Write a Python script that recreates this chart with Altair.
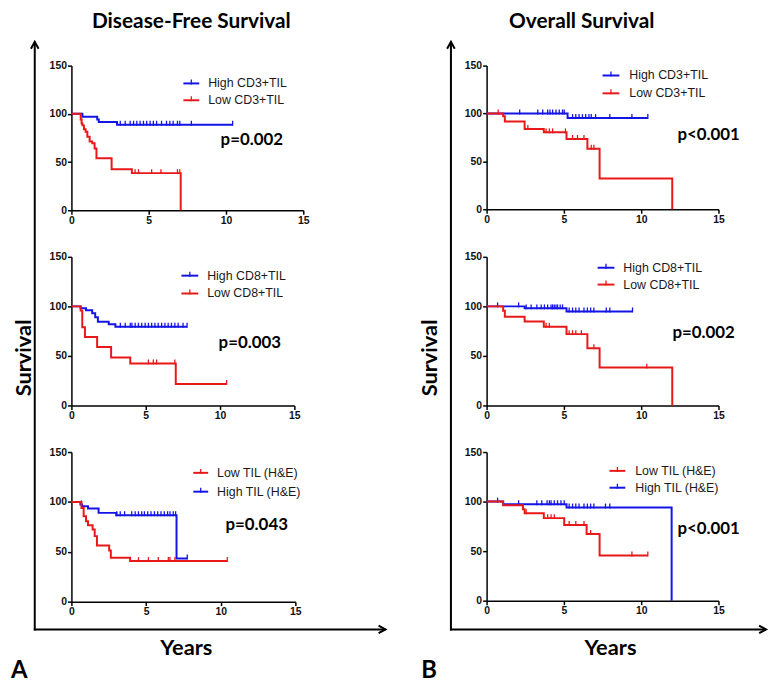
import altair as alt
import pandas as pd

BLUE = "#1414e6"
RED = "#e81818"
BIG_FONT = "Lato"
SMALL_FONT = "Liberation Sans"

# ---------------- data: step times (years) and survival (%) ----------------
# Disease-free survival, CD3
dfs_cd3_high_t = [0, 0.71, 1.67, 1.77, 2.95, 10.43]
dfs_cd3_high_s = [100, 97, 94, 91.5, 88.7, 88.7]
dfs_cd3_high_c = [3.16, 3.48, 3.80, 4.02, 4.23, 4.44, 4.66, 4.87, 5.09, 5.30, 5.51,
                  5.83, 6.15, 6.37, 6.58, 6.86, 7.01, 7.76, 10.43]
dfs_cd3_low_t = [0, 0.6, 0.66, 0.71, 0.81, 0.92, 1.03, 1.18, 1.35, 1.5, 1.62, 2.6, 3.91, 7.07]
dfs_cd3_low_s = [100, 94, 90, 88, 84, 81.5, 76.3, 71.2, 69.5, 64, 54, 42.5, 38.5, 0]
dfs_cd3_low_c = [4.12, 4.34, 5.19, 5.79, 6.86, 7.01]

# Disease-free survival, CD8
dfs_cd8_high_t = [0, 0.62, 0.98, 1.4, 1.6, 1.78, 2.51, 2.96, 7.78]
dfs_cd8_high_s = [100, 98, 96, 93, 89, 84.5, 82, 79.5, 79.5]
dfs_cd8_high_c = [3.29, 3.62, 3.96, 4.07, 4.29, 4.51, 4.73, 4.96, 5.18, 5.4, 5.62, 5.84,
                  6.07, 6.29, 6.51, 6.73, 6.96, 7.18, 7.51, 7.78]
dfs_cd8_low_t = [0, 0.62, 0.73, 0.91, 1.73, 2.67, 3.96, 7.02, 10.44]
dfs_cd8_low_s = [100, 95.7, 79, 69, 59, 48.4, 42.4, 21.7, 21.7]
dfs_cd8_low_c = [5.18, 5.51, 5.73, 6.96, 10.44]

# Disease-free survival, TIL (H&E)
dfs_til_low_t = [0, 0.67, 0.82, 0.98, 1.11, 1.42, 1.56, 1.71, 2.53, 2.64, 3.93, 10.44]
dfs_til_low_s = [100, 94, 85.7, 80.7, 76.7, 72.3, 65.7, 56.3, 51.3, 44, 40.7, 40.7]
dfs_til_low_c = [4.49, 5.16, 5.82, 6.49, 6.6, 6.93, 10.44]
dfs_til_high_t = [0, 0.6, 0.71, 1.11, 1.82, 3.0, 7.04, 7.76]
dfs_til_high_s = [100, 97.5, 95.7, 93.3, 89, 86.7, 43.3, 43.3]
dfs_til_high_c = [0.67, 3.04, 3.27, 3.56, 4.04, 4.27, 4.49, 4.71, 4.89, 5.11, 5.33, 5.56,
                  5.78, 6.0, 6.22, 6.44, 6.6, 6.82, 6.98, 7.76]

# Overall survival, CD3
os_cd3_high_t = [0, 5.24, 10.43]
os_cd3_high_s = [100, 95.2, 95.2]
os_cd3_high_c = [2.14, 3.31, 3.63, 3.95, 4.1, 4.27, 4.49, 4.7, 4.91, 5.02, 5.56, 5.77,
                 5.98, 6.2, 6.41, 6.62, 6.77, 7.05, 7.97, 9.4, 10.43]
os_cd3_low_t = [0, 1.07, 1.18, 2.46, 3.7, 5.17, 6.52, 7.31, 12.01]
os_cd3_low_s = [100, 97, 91.7, 83.8, 80.3, 73.4, 63.1, 32.1, 0]
os_cd3_low_c = [0.75, 2.67, 3.85, 4.06, 4.27, 5.1, 5.56, 5.88, 6.3, 6.77, 6.94]

# Overall survival, CD8
os_cd8_high_t = [0, 2.46, 5.17, 9.44]
os_cd8_high_s = [100, 98, 94.9, 94.9]
os_cd8_high_c = [0.71, 2.07, 2.56, 2.88, 3.25, 3.53, 3.74, 3.95, 4.17, 4.27, 4.38, 4.49,
                 4.59, 4.76, 4.91, 5.34, 5.56, 5.77, 5.98, 6.3, 6.52, 6.73, 6.94, 7.74,
                 7.97, 9.44]
os_cd8_low_t = [0, 1.07, 1.18, 2.46, 3.7, 5.17, 6.52, 7.31, 12.01]
os_cd8_low_s = [100, 95.6, 89.5, 84.8, 79.4, 72, 57.8, 38.2, 0]
os_cd8_low_c = [3.85, 4.06, 5.34, 5.56, 5.77, 6.13, 6.94, 10.36]

# Overall survival, TIL (H&E)
os_til_low_t = [0, 1.07, 2.35, 2.46, 3.7, 5.02, 6.47, 7.31, 10.43]
os_til_low_s = [100, 96.3, 92.3, 88.3, 83.3, 76.3, 67.3, 45.7, 45.7]
os_til_low_c = [2.56, 3.95, 4.17, 4.38, 5.34, 5.77, 6.3, 6.73, 9.4, 10.43]
os_til_high_t = [0, 1.07, 5.17, 11.97]
os_til_high_s = [100, 97.3, 94, 0]
os_til_high_c = [0.71, 2.07, 3.25, 3.57, 3.91, 4.06, 4.17, 4.38, 4.59, 4.81, 5.02, 5.34,
                 5.56, 5.77, 5.98, 6.3, 6.52, 6.73, 6.94, 7.69, 7.97]

x_ticks = [0, 5, 10, 15]
y_ticks = [0, 50, 100, 150]

one = pd.DataFrame({"k": [0]})


def surv_at(times, surv, t):
    s = surv[0]
    for ti, si in zip(times, surv):
        if ti <= t + 1e-9:
            s = si
        else:
            break
    return s


def km_plot(curves, legend, ptext, ppos, w, h):
    xs = alt.Scale(domain=[0, 15], nice=False, zero=False)
    ys = alt.Scale(domain=[0, 150], nice=False)
    xa = alt.Axis(values=x_ticks, title=None)
    ya = alt.Axis(values=y_ticks, title=None)
    layers = []
    for color, times, surv, cens in curves:
        df = pd.DataFrame({"t": times, "s": surv})
        layers.append(
            alt.Chart(df).mark_line(interpolate="step-after", color=color, strokeWidth=2)
            .encode(x=alt.X("t:Q", scale=xs, axis=xa), y=alt.Y("s:Q", scale=ys, axis=ya))
        )
        cdf = pd.DataFrame({"t": cens, "s": [surv_at(times, surv, c) for c in cens]})
        layers.append(
            alt.Chart(cdf).mark_rule(color=color, strokeWidth=1.3, yOffset=1, y2Offset=-4)
            .encode(x="t:Q", y="s:Q", y2="s:Q")
        )
    (lx1, lx2, ly1, ly2, tx) = legend["pos"]
    for (label, color), ly in zip(legend["entries"], [ly1, ly2]):
        d = pd.DataFrame({"label": [label]})
        layers.append(alt.Chart(d).mark_rule(color=color, strokeWidth=2).encode(
            x=alt.value(lx1), x2=alt.value(lx2), y=alt.value(ly)))
        layers.append(alt.Chart(d).mark_rule(color=color, strokeWidth=1.3).encode(
            x=alt.value((lx1 + lx2) / 2), y=alt.value(ly - 4), y2=alt.value(ly + 1)))
        layers.append(alt.Chart(d).mark_text(align="left", baseline="middle", font=SMALL_FONT,
                                             fontSize=12.5, color="#1a1a1a").encode(
            x=alt.value(tx), y=alt.value(ly), text="label:N"))
    pdf = pd.DataFrame({"p": [ptext]})
    layers.append(alt.Chart(pdf).mark_text(align="center", baseline="middle", font=BIG_FONT,
                                           fontWeight="bold", fontSize=17, color="black").encode(
        x=alt.value(ppos[0]), y=alt.value(ppos[1]), text="p:N"))
    return alt.layer(*layers).properties(width=w, height=h)


def axis_strip(w, line_x, tip_y, bottom_y, text_x, text_y):
    rule = alt.Chart(one).mark_rule(color="black", strokeWidth=2).encode(
        x=alt.value(line_x), y=alt.value(tip_y), y2=alt.value(bottom_y))
    head = alt.Chart(one).mark_point(shape="M-0.55,1L0,0L0.55,1", size=196, filled=False,
                                     color="black", strokeWidth=2, opacity=1).encode(
        x=alt.value(line_x), y=alt.value(tip_y))
    txt = alt.Chart(one).mark_text(text="Survival", angle=270, font=BIG_FONT, fontWeight="bold",
                                   fontSize=22, baseline="top", align="center",
                                   color="black").encode(x=alt.value(text_x), y=alt.value(text_y))
    return alt.layer(rule, head, txt).properties(width=w, height=8)


def title_strip(text, tx, ty, w):
    txt = alt.Chart(one).mark_text(text=text, font=BIG_FONT, fontWeight="bold", fontSize=21,
                                   baseline="top", align="center", color="black").encode(
        x=alt.value(tx), y=alt.value(ty))
    return txt.properties(width=w, height=8)


def bottom_strip(w, line_y, x1, x2, yx, yy, letter, lx, ly):
    rule = alt.Chart(one).mark_rule(color="black", strokeWidth=2).encode(
        x=alt.value(x1), x2=alt.value(x2), y=alt.value(line_y))
    head = alt.Chart(one).mark_point(shape="M-1,-0.55L0,0L-1,0.55", size=196, filled=False,
                                     color="black", strokeWidth=2, opacity=1).encode(
        x=alt.value(x2), y=alt.value(line_y))
    years = alt.Chart(one).mark_text(text="Years", font=BIG_FONT, fontWeight="bold", fontSize=22,
                                     baseline="middle", align="center", color="black").encode(
        x=alt.value(yx), y=alt.value(yy))
    let = alt.Chart(one).mark_text(text=letter, font=BIG_FONT, fontWeight="bold", fontSize=24,
                                   baseline="alphabetic", align="left", color="black").encode(
        x=alt.value(lx), y=alt.value(ly))
    return alt.layer(rule, head, years, let).properties(width=w, height=20)


def empty(w):
    return alt.Chart(one).mark_point(opacity=0).encode(
        x=alt.value(0), y=alt.value(0)).properties(width=w, height=1)


# ---------------- panel A: disease-free survival ----------------
a1 = km_plot([(BLUE, dfs_cd3_high_t, dfs_cd3_high_s, dfs_cd3_high_c),
              (RED, dfs_cd3_low_t, dfs_cd3_low_s, dfs_cd3_low_c)],
             {"entries": [("High CD3+TIL", BLUE), ("Low CD3+TIL", RED)],
              "pos": (113, 129, 18, 35, 138)},
             "p=0.002", (182, 75), 234, 146)
a2 = km_plot([(BLUE, dfs_cd8_high_t, dfs_cd8_high_s, dfs_cd8_high_c),
              (RED, dfs_cd8_low_t, dfs_cd8_low_s, dfs_cd8_low_c)],
             {"entries": [("High CD8+TIL", BLUE), ("Low CD8+TIL", RED)],
              "pos": (111, 128, 19, 37, 137)},
             "p=0.003", (180, 87), 225, 150)
a3 = km_plot([(BLUE, dfs_til_high_t, dfs_til_high_s, dfs_til_high_c),
              (RED, dfs_til_low_t, dfs_til_low_s, dfs_til_low_c)],
             {"entries": [("Low TIL (H&E)", RED), ("High TIL (H&E)", BLUE)],
              "pos": (123, 138, 21, 40, 147)},
             "p=0.043", (187, 74), 226, 151)

# ---------------- panel B: overall survival ----------------
b1 = km_plot([(BLUE, os_cd3_high_t, os_cd3_high_s, os_cd3_high_c),
              (RED, os_cd3_low_t, os_cd3_low_s, os_cd3_low_c)],
             {"entries": [("High CD3+TIL", BLUE), ("Low CD3+TIL", RED)],
              "pos": (117, 134, 10, 28, 144)},
             "p<0.001", (224, 70), 234, 145)
b2 = km_plot([(BLUE, os_cd8_high_t, os_cd8_high_s, os_cd8_high_c),
              (RED, os_cd8_low_t, os_cd8_low_s, os_cd8_low_c)],
             {"entries": [("High CD8+TIL", BLUE), ("Low CD8+TIL", RED)],
              "pos": (112, 129, 11, 28, 138)},
             "p=0.002", (219, 77), 234, 150)
b3 = km_plot([(BLUE, os_til_high_t, os_til_high_s, os_til_high_c),
              (RED, os_til_low_t, os_til_low_s, os_til_low_c)],
             {"entries": [("Low TIL (H&E)", RED), ("High TIL (H&E)", BLUE)],
              "pos": (124, 140, 19, 36, 150)},
             "p<0.001", (224, 78), 234, 150)

cells = [
    axis_strip(61, 24, 31, 625, 3, 350), title_strip("Disease-Free Survival", 121, 0, 234),
    axis_strip(185, 149, 31, 625, 118, 350), title_strip("Overall Survival", 96, 0, 234),
    empty(61), a1, empty(185), b1,
    empty(61), a2, empty(185), b2,
    empty(61), a3, empty(185), b3,
    empty(61), bottom_strip(234, -19, -38, 317, 116, 0, "A", -61, 30),
    empty(185), bottom_strip(234, -19, -37, 282, 125, 0, "B", -66, 30),
]

chart = (
    alt.concat(*cells, columns=4, spacing={"row": 47, "column": 0}, bounds="flush")
    .properties(padding=0)
    .configure_view(stroke=None)
    .configure_axis(
        domainColor="black", domainWidth=1.5, tickColor="black", tickWidth=1.5, tickSize=4,
        labelFont=SMALL_FONT, labelFontWeight="bold", labelFontSize=10.5, labelColor="#111111",
        labelPadding=1, labelFlush=False, grid=False,
    )
)

chart.save("out.html", embed_options={"renderer": "svg", "actions": False})
